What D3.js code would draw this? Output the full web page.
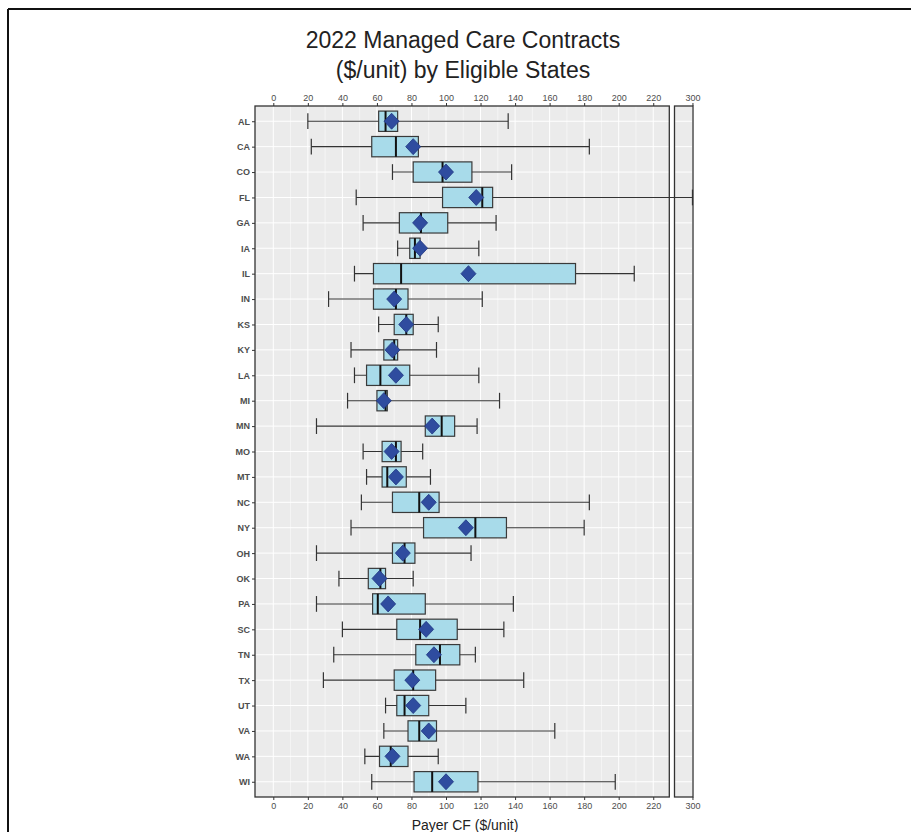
<!DOCTYPE html>
<html>
<head>
<meta charset="utf-8">
<script src="https://cdn.jsdelivr.net/npm/d3@7"></script>
<style>
  body { margin: 0; background: #fff; }
  svg { display: block; font-family: "Liberation Sans", Arial, sans-serif; }
  .tick-label { font-size: 9px; fill: #4d4d4d; }
  .grid-major { stroke: #fff; stroke-width: 1; }
  .grid-minor { stroke: #fff; stroke-width: 0.5; }
</style>
</head>
<body>
<svg id="chart"></svg>
<script>
const states = ['AL','CA','CO','FL','GA','IA','IL','IN','KS','KY','LA','MI','MN','MO','MT','NC','NY','OH','OK','PA','SC','TN','TX','UT','VA','WA','WI']
const whiskerLow  = [20, 22, 69, 48, 52, 72, 47, 32, 61, 45, 47, 43, 25, 52, 54, 51, 45, 25, 38, 25, 40, 35, 29, 65, 64, 53, 57]
const q1          = [61, 57, 81, 98, 73, 79, 58, 58, 70, 64, 54, 60, 88, 63, 63, 69, 87, 69, 55, 57.5, 71.5, 82.5, 70, 71.5, 78, 61.5, 81.5]
const medians     = [65, 71, 98, 121, 85.5, 82, 74, 71, 77, 70, 62, 65, 97.5, 71, 66, 84.5, 117, 76, 62, 60.5, 85, 96.5, 81, 76, 84.5, 68, 92]
const q3          = [72, 84, 115, 127, 101, 85, 175, 78, 81, 72, 79, 66, 105, 74, 77, 96, 135, 82, 65, 88, 106.5, 108, 94, 90, 94.5, 78, 118.5]
const whiskerHigh = [136, 183, 138, 300, 129, 119, 209, 121, 95.5, 94.5, 119, 131, 118, 86.5, 91, 183, 180, 114.5, 81, 139, 133.5, 117, 145, 111.5, 163, 95.5, 198]
const means       = [68.5, 81, 100, 117.5, 85, 85, 113, 70, 77, 69, 71, 64, 92, 68.5, 71, 90, 111.5, 75, 61.5, 66.5, 88.5, 93, 80.5, 81, 90, 69, 100]
const mainTicks = d3.range(0, 221, 20)
const breakTicks = [300]

const W = 911, H = 832
const svg = d3.select('#chart').attr('width', W).attr('height', H)

// page frame
svg.append('line').attr('x1', 8).attr('x2', W).attr('y1', 9).attr('y2', 9)
    .attr('stroke', '#111').attr('stroke-width', 2)
svg.append('line').attr('x1', 8).attr('x2', 8).attr('y1', 9).attr('y2', H)
    .attr('stroke', '#111').attr('stroke-width', 2)

// title
svg.append('text').attr('x', 463).attr('y', 48).attr('text-anchor', 'middle')
    .attr('font-size', 23).attr('fill', '#222').text('2022 Managed Care Contracts')
svg.append('text').attr('x', 463).attr('y', 78).attr('text-anchor', 'middle')
    .attr('font-size', 23).attr('fill', '#222').text('($/unit) by Eligible States')

const panelTop = 106, panelBottom = 797
const x = d3.scaleLinear().domain([-10.6, 229.3]).range([255, 669.3])
const xb = d3.scaleLinear().domain([289.9, 300.3]).range([674.5, 693])
const y = d3.scalePoint().domain(states).range([panelTop, panelBottom]).padding(0.6)
const step = y.step()

// panels
const panels = [
    { sc: x, ticks: mainTicks, minor: d3.range(10, 230, 20) },
    { sc: xb, ticks: breakTicks, minor: [290] }
]
panels.forEach(p => {
    const [x0, x1] = p.sc.range()
    const g = svg.append('g')
    g.append('rect').attr('x', x0).attr('y', panelTop).attr('width', x1 - x0).attr('height', panelBottom - panelTop)
        .attr('fill', '#ebebeb')
    g.selectAll('.gm').data(p.minor).enter().append('line').attr('class', 'grid-minor')
        .attr('x1', d => p.sc(d)).attr('x2', d => p.sc(d)).attr('y1', panelTop).attr('y2', panelBottom)
    g.selectAll('.gx').data(p.ticks).enter().append('line').attr('class', 'grid-major')
        .attr('x1', d => p.sc(d)).attr('x2', d => p.sc(d)).attr('y1', panelTop).attr('y2', panelBottom)
    g.selectAll('.gy').data(states).enter().append('line').attr('class', 'grid-major')
        .attr('x1', x0).attr('x2', x1).attr('y1', d => y(d)).attr('y2', d => y(d))

    const axTop = svg.append('g').attr('transform', `translate(0,${panelTop})`)
        .call(d3.axisTop(p.sc).tickValues(p.ticks).tickSize(3).tickPadding(2))
    const axBot = svg.append('g').attr('transform', `translate(0,${panelBottom})`)
        .call(d3.axisBottom(p.sc).tickValues(p.ticks).tickSize(3).tickPadding(3))
    ;[axTop, axBot].forEach(ax => {
        ax.select('.domain').remove()
        ax.selectAll('line').attr('stroke', '#333')
        ax.selectAll('text').attr('class', 'tick-label').attr('font-family', null).attr('font-size', null)
    })
})

// y axis labels
const axL = svg.append('g').attr('transform', `translate(255,0)`)
    .call(d3.axisLeft(y).tickSize(3).tickPadding(2))
axL.select('.domain').remove()
axL.selectAll('line').attr('stroke', '#333')
axL.selectAll('text').attr('class', 'tick-label').attr('font-family', null).attr('font-size', null)
    .attr('font-weight', 'bold').attr('fill', '#555')

// value → pixel across the broken axis
const px = v => v > 250 ? xb(v) : x(v)

const boxH = step * 0.8, capH = step * 0.62
const rows = svg.append('g').selectAll('g').data(states).enter().append('g')
    .attr('transform', d => `translate(0,${y(d)})`)

rows.append('line')
    .attr('x1', (d, i) => px(whiskerLow[i])).attr('x2', (d, i) => px(whiskerHigh[i]))
    .attr('stroke', '#333').attr('stroke-width', 1.1)
rows.selectAll('.cap').data((d, i) => [whiskerLow[i], whiskerHigh[i]]).enter().append('line')
    .attr('x1', v => px(v)).attr('x2', v => px(v)).attr('y1', -capH / 2).attr('y2', capH / 2)
    .attr('stroke', '#333').attr('stroke-width', 1.2)
rows.append('rect')
    .attr('x', (d, i) => x(q1[i])).attr('width', (d, i) => x(q3[i]) - x(q1[i]))
    .attr('y', -boxH / 2).attr('height', boxH)
    .attr('fill', '#a8dbea').attr('stroke', '#3a3a3a').attr('stroke-width', 1.2)
rows.append('line')
    .attr('x1', (d, i) => x(medians[i])).attr('x2', (d, i) => x(medians[i]))
    .attr('y1', -boxH / 2).attr('y2', boxH / 2)
    .attr('stroke', '#111').attr('stroke-width', 2)
rows.append('path')
    .attr('d', 'M0,-8L7.5,0L0,8L-7.5,0Z')
    .attr('transform', (d, i) => `translate(${x(means[i])},0)`)
    .attr('fill', '#2f4c9f').attr('stroke', '#1e3580').attr('stroke-width', 0.8)

// panel borders
panels.forEach(p => {
    const [x0, x1] = p.sc.range()
    svg.append('rect').attr('x', x0).attr('y', panelTop).attr('width', x1 - x0).attr('height', panelBottom - panelTop)
        .attr('fill', 'none').attr('stroke', '#333').attr('stroke-width', 1.3)
})

// x axis title
svg.append('text').attr('x', 465).attr('y', 830).attr('text-anchor', 'middle')
    .attr('font-size', 14).attr('fill', '#222').text('Payer CF ($/unit)')
</script>
</body>
</html>
